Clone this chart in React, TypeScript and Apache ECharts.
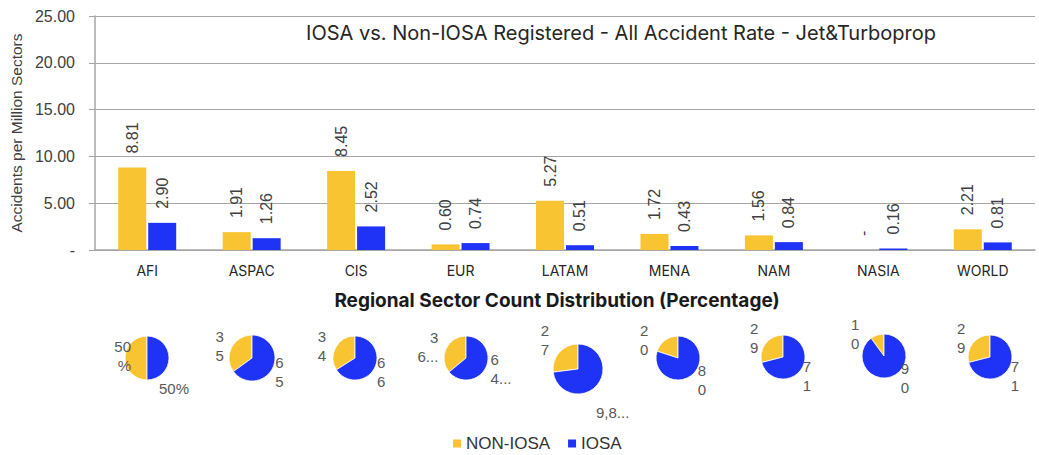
import React, { useEffect, useRef } from "react";
import * as echarts from "echarts";

const categories = ["AFI", "ASPAC", "CIS", "EUR", "LATAM", "MENA", "NAM", "NASIA", "WORLD"];
const nonIosaRate = [8.81, 1.91, 8.45, 0.6, 5.27, 1.72, 1.56, 0, 2.21];
const iosaRate = [2.9, 1.26, 2.52, 0.74, 0.51, 0.43, 0.84, 0.16, 0.81];
const yTicks = [0, 5, 10, 15, 20, 25];

// sector share (percent) per region
const nonIosaShare = [50, 35, 34, 36, 27, 20, 29, 10, 29];
const iosaShare = [50, 65, 66, 64, 73, 80, 71, 90, 71];
const nonIosaShareLabel = ["50\n%", "3\n5", "3\n4", "3\n6...", "2\n7", "2\n0", "2\n9", "1\n0", "2\n9"];
const iosaShareLabel = ["50%", "6\n5", "6\n6", "6\n4...", "9,8...", "8\n0", "7\n1", "9\n0", "7\n1"];

const YELLOW = "#F9C432";
const BLUE = "#1F33F6";

// layout (pixels)
const pieCenters = [
  [147, 358], [252, 358], [355, 358], [466, 358], [578, 369],
  [678, 358], [783, 357], [884, 356], [990, 357],
];
const pieRadius = [22, 23, 22, 22, 25, 22, 22, 22, 22];
// label nudges [nonIosa dx, dy, iosa dx, dy]
const pieLabelNudge = [
  [14, -2, -18, 30],
  [0, 0, -5, 2],
  [-2, 0, -5, 2],
  [0, 0, -3, 0],
  [-3, -10, -8, 25],
  [-10, 2, 0, 2],
  [0, -4, -5, 4],
  [-12, 2, 4, -2],
  [0, -4, -4, 4],
];

export default function App() {
  const ref = useRef<HTMLDivElement>(null);
  useEffect(() => {
    if (!ref.current) return;
    const chart = echarts.init(ref.current, null, { renderer: "svg" });
    const barLabel = {
      show: true,
      position: "top",
      rotate: 90,
      align: "left",
      verticalAlign: "middle",
      distance: 14,
      fontFamily: "Liberation Sans, Arial, sans-serif",
      fontSize: 16,
      color: "#404040",
      formatter: (p: any) => (p.value === 0 ? "-" : Number(p.value).toFixed(2)),
    };
    const pies = categories.map((c, i) => ({
      type: "pie",
      name: c,
      center: pieCenters[i],
      radius: pieRadius[i],
      startAngle: 90,
      clockwise: false,
      silent: true,
      avoidLabelOverlap: false,
      itemStyle: { borderColor: "#ffffff", borderWidth: 0.8 },
      label: {
        show: true,
        position: "outside",
        fontFamily: "Liberation Sans, Arial, sans-serif",
        fontSize: 15,
        lineHeight: 19,
        color: "#595959",
        formatter: (p: any) => (p.dataIndex === 0 ? nonIosaShareLabel[i] : iosaShareLabel[i]),
      },
      labelLayout: (p: any) => {
        const n = pieLabelNudge[i];
        return p.dataIndex === 0 ? { dx: n[0], dy: n[1] } : { dx: n[2], dy: n[3] };
      },
      labelLine: { show: false, length: 3, length2: 0 },
      emphasis: { disabled: true },
      data: [
        { name: "NON-IOSA", value: nonIosaShare[i], itemStyle: { color: YELLOW } },
        { name: "IOSA", value: iosaShare[i], itemStyle: { color: BLUE } },
      ],
    }));
    chart.setOption({
      animation: false,
      grid: { left: 95, right: 4, top: 16, height: 234, containLabel: false },
      legend: {
        data: ["NON-IOSA", "IOSA"],
        left: 448,
        top: 430,
        icon: "rect",
        itemWidth: 8,
        itemHeight: 8,
        itemGap: 18,
        textStyle: { fontFamily: "Liberation Sans, Arial, sans-serif", fontSize: 17, color: "#333333" },
      },
      graphic: [
        {
          type: "text",
          x: 621,
          y: 33,
          style: {
            text: "IOSA vs. Non-IOSA Registered - All Accident Rate - Jet&Turboprop",
            fontFamily: "Inter, sans-serif",
            fontSize: 20,
            fill: "#262626",
            align: "center",
            verticalAlign: "middle",
          },
        },
        {
          type: "text",
          x: 557,
          y: 300,
          style: {
            text: "Regional Sector Count Distribution (Percentage)",
            fontFamily: "Inter, sans-serif",
            fontWeight: "bold",
            fontSize: 19,
            fill: "#1a1a1a",
            align: "center",
            verticalAlign: "middle",
          },
        },
      ],
      xAxis: {
        type: "category",
        data: categories,
        axisLine: { lineStyle: { color: "#a6a6a6", width: 1.5 } },
        axisTick: { show: false },
        axisLabel: { fontFamily: "Inter, sans-serif", fontSize: 14, color: "#262626", margin: 13 },
      },
      yAxis: {
        type: "value",
        min: yTicks[0],
        max: yTicks[yTicks.length - 1],
        interval: 5,
        name: "Accidents per Million Sectors",
        nameLocation: "middle",
        nameGap: 68,
        nameTextStyle: { fontFamily: "Liberation Sans, Arial, sans-serif", fontSize: 15.5, color: "#404040" },
        axisLine: { show: true, lineStyle: { color: "#a6a6a6", width: 1.5 } },
        axisTick: { show: true, length: 6, lineStyle: { color: "#a6a6a6" } },
        splitLine: { lineStyle: { color: "#a6a6a6", width: 1.2 } },
        axisLabel: {
          fontFamily: "Liberation Sans, Arial, sans-serif",
          fontSize: 16,
          color: "#404040",
          margin: 20,
          formatter: (v: number) => (v === 0 ? "-" : v.toFixed(2)),
        },
      },
      series: [
        {
          type: "bar",
          name: "NON-IOSA",
          data: nonIosaRate,
          barWidth: 28,
          barGap: "7%",
          itemStyle: { color: YELLOW },
          label: barLabel,
          silent: true,
        },
        {
          type: "bar",
          name: "IOSA",
          data: iosaRate,
          barWidth: 28,
          barGap: "7%",
          itemStyle: { color: BLUE },
          label: barLabel,
          silent: true,
        },
        ...pies,
      ],
    } as any);
    return () => chart.dispose();
  }, []);
  return (
    <div
      ref={ref}
      style={{ position: "absolute", left: 0, top: 0, width: 1039, height: 455, background: "#ffffff" }}
    />
  );
}
